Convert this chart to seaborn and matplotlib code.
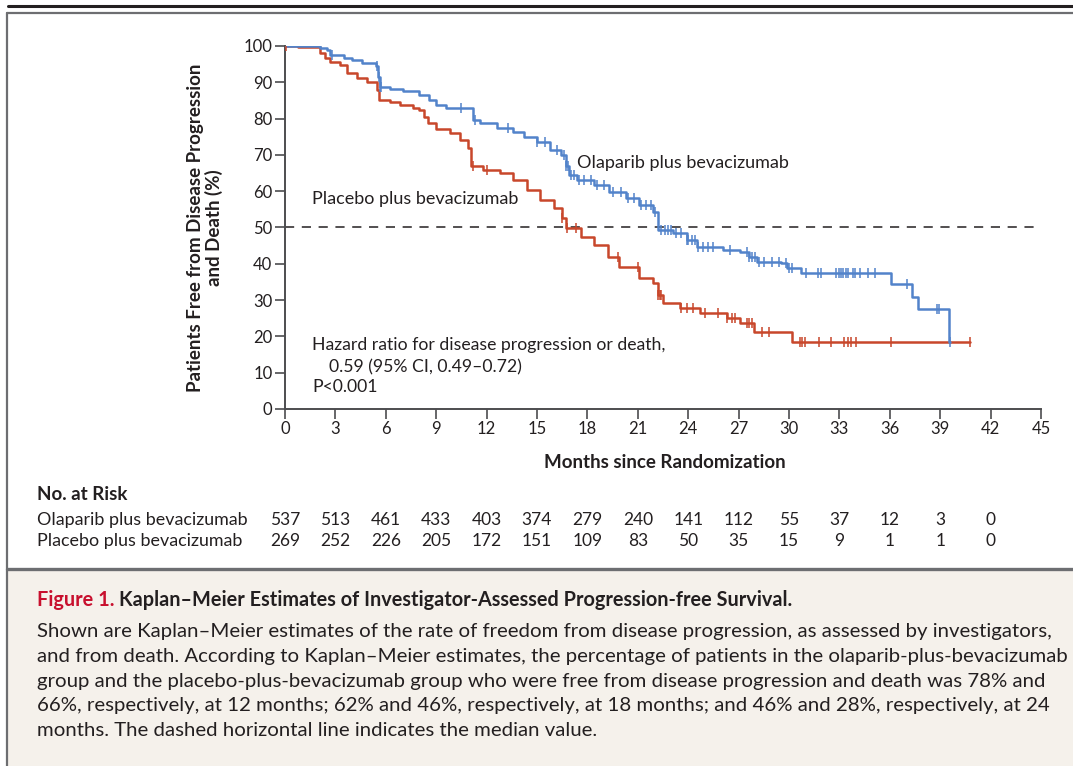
import numpy as np
import pandas as pd
import matplotlib
matplotlib.use("Agg")
import matplotlib.pyplot as plt
import seaborn as sns
from matplotlib.patches import Rectangle
from matplotlib.lines import Line2D
import matplotlib.transforms as mtransforms

# ---------------- data ----------------
month_ticks = list(range(0, 46, 3))
pct_ticks = list(range(0, 101, 10))

olap_time = [0, 2.1, 2.5, 2.7, 3.5, 4.0, 4.6, 5.4, 5.55, 5.65, 6.25, 7.0, 8.0, 8.6, 9.0, 9.6,
             11.2, 11.6, 12.6, 13.6, 14.2, 15.0, 15.8, 16.4, 16.7, 16.9, 17.4, 18.4, 19.3,
             20.3, 21.1, 21.9, 22.2, 23.1, 23.9, 24.5, 26.1, 27.1, 27.6, 28.1, 29.5, 29.9,
             30.7, 36.1, 37.3, 37.7, 39.5, 39.6]
olap_surv = [100, 99.5, 98.8, 97.5, 96.6, 96.1, 95.2, 94.5, 91.5, 88.8, 88.1, 87.7, 86.5, 85.1,
             83.7, 82.8, 79.6, 78.7, 77.4, 76.4, 75.0, 73.6, 71.3, 70.0, 67.0, 64.5, 63.1, 61.7,
             59.9, 58.0, 56.2, 54.4, 49.3, 48.5, 46.6, 44.7, 43.8, 43.3, 42.0, 40.6, 40.1, 38.8,
             37.6, 34.4, 30.9, 27.5, 18.5, 18.5]
olap_censor = [2.8, 5.5, 5.6, 5.65, 5.7, 10.5, 11.3, 13.3, 15.0, 15.5, 16.2, 16.6, 16.75, 16.85,
               17.0, 17.2, 17.5, 17.8, 18.2, 18.6, 19.0, 19.5, 20.0, 20.4, 20.8, 21.2, 21.5,
               21.8, 22.0, 22.4, 22.6, 22.8, 23.0, 23.3, 23.6, 23.9, 24.0, 24.2, 24.4, 24.6,
               24.9, 25.2, 25.5, 26.5, 27.5, 27.6, 27.8, 28.0, 28.2, 28.5, 29.0, 29.4, 29.8,
               30.0, 30.2, 31.0, 31.7, 31.9, 32.8, 33.0, 33.1, 33.2, 33.4, 33.5, 33.8, 33.9,
               34.2, 34.7, 35.1, 37.0, 38.8, 38.9, 39.6]

plac_time = [0, 0.8, 2.1, 2.4, 2.7, 3.3, 3.7, 4.3, 4.9, 5.5, 5.6, 6.25, 6.85, 7.6, 8.0, 8.3,
             8.5, 9.0, 9.8, 10.4, 10.9, 11.1, 11.8, 12.8, 13.6, 14.4, 15.2, 16.0, 16.5, 16.7,
             17.6, 18.4, 19.2, 19.9, 21.1, 21.9, 22.2, 22.5, 23.5, 24.7, 26.3, 27.1, 27.9,
             30.2, 40.8]
plac_surv = [100, 99.6, 98.0, 96.8, 95.7, 94.8, 92.5, 91.1, 90.2, 87.9, 85.1, 84.7, 83.7,
             82.8, 82.4, 80.5, 78.7, 77.0, 75.9, 74.1, 71.8, 66.9, 65.8, 64.9, 63.1, 60.3,
             57.6, 55.3, 52.5, 49.8, 47.5, 45.2, 42.0, 39.2, 36.0, 34.6, 31.5, 29.1, 27.7,
             26.4, 25.0, 23.6, 21.3, 18.5, 18.5]
plac_censor = [0.05, 11.2, 12.0, 16.5, 16.8, 17.3, 19.8, 21.0, 22.2, 22.3, 22.4, 23.6, 23.9,
               24.3, 25.0, 25.8, 26.3, 26.6, 26.8, 27.5, 27.6, 27.8, 28.4, 28.8, 30.65, 30.8,
               30.95, 31.8, 32.5, 33.3, 33.5, 33.7, 34.0, 36.1, 40.8]

risk_olap = [537, 513, 461, 433, 403, 374, 279, 240, 141, 112, 55, 37, 12, 3, 0]
risk_plac = [269, 252, 226, 205, 172, 151, 109, 83, 50, 35, 15, 9, 1, 1, 0]

label_olap = "Olaparib plus bevacizumab"
label_plac = "Placebo plus bevacizumab"

# ---------------- style ----------------
sns.set_theme(style="ticks")
plt.rcParams["font.family"] = ["Lato", "DejaVu Sans"]
TXT = "#231f20"
BLUE = "#5283ca"
RED = "#c8472b"
AX = "#4d4d4f"

W, H = 1073, 766
fig = plt.figure(figsize=(W / 100, H / 100), dpi=100)
fig.patch.set_facecolor("white")

def fx(px):
    return px / W

def fy(py):
    return 1 - py / H

# frame decorations
fig.add_artist(Rectangle((fx(8), 0), 1 - fx(8), fy(571), transform=fig.transFigure,
                         facecolor="#f5f1eb", edgecolor="none", zorder=0))
fig.add_artist(Line2D([fx(8), 1], [fy(6), fy(6)], transform=fig.transFigure,
                      color="#231f20", lw=2.2))
fig.add_artist(Line2D([fx(7), 1], [fy(13), fy(13)], transform=fig.transFigure,
                      color="#6d6e71", lw=1.6))
fig.add_artist(Line2D([fx(7), fx(7)], [0, fy(13)], transform=fig.transFigure,
                      color="#6d6e71", lw=1.6))
fig.add_artist(Line2D([fx(7), 1], [fy(569), fy(569)], transform=fig.transFigure,
                      color="#6d6e71", lw=2.4))

ax = fig.add_axes([fx(285), fy(409), fx(1041) - fx(285), fy(46) - fy(409)])
ax.set_facecolor("none")

def step_df(t, s):
    return pd.DataFrame({"time": t, "surv": s})

def censor_df(t, s, c):
    t = np.asarray(t)
    s = np.asarray(s)
    idx = np.searchsorted(t, np.asarray(c), side="right") - 1
    return pd.DataFrame({"time": c, "surv": s[idx]})

for t, s, c, col in [(plac_time, plac_surv, plac_censor, RED),
                     (olap_time, olap_surv, olap_censor, BLUE)]:
    sns.lineplot(data=step_df(t, s), x="time", y="surv", ax=ax, color=col, lw=1.8,
                 drawstyle="steps-post", estimator=None, sort=False, zorder=3)
    sns.scatterplot(data=censor_df(t, s, c), x="time", y="surv", ax=ax, color=col,
                    marker="|", s=50, linewidth=1.1, zorder=4)

# median dashed line
sns.lineplot(x=[0, 44.8], y=[50, 50], ax=ax, color="#231f20", lw=1.1,
             linestyle=(0, (6, 5)), zorder=2)

ax.set_xlim(0, 45)
ax.set_ylim(0, 100)
ax.set_xticks(month_ticks)
ax.set_yticks(pct_ticks)
ax.tick_params(axis="both", direction="out", length=7, width=1.2, color=AX,
               labelsize=12, labelcolor=TXT, pad=2)
for side in ["top", "right"]:
    ax.spines[side].set_visible(False)
for side in ["left", "bottom"]:
    ax.spines[side].set_color(AX)
    ax.spines[side].set_linewidth(1.4)
ax.set_xlabel("")
ax.set_ylabel("")

# axis labels
fig.text(fx(665), fy(462), "Months since Randomization", ha="center", va="center",
         fontsize=13.5, fontweight="bold", color=TXT)
fig.text(fx(205), fy(228), "Patients Free from Disease Progression\nand Death (%)",
         ha="center", va="center", rotation=90, fontsize=13.5, fontweight="bold",
         color=TXT, linespacing=1.1)

# in-plot labels
ax.text(17.38, 67.8, label_olap, ha="left", va="center", fontsize=13, color=TXT)
ax.text(1.6, 57.9, label_plac, ha="left", va="center", fontsize=13, color=TXT)
ax.text(1.6, 17.6, "Hazard ratio for disease progression or death,", ha="left",
        va="center", fontsize=12.7, color=TXT)
ax.text(2.6, 11.6, "0.59 (95% CI, 0.49\u20130.72)", ha="left", va="center",
        fontsize=12.7, color=TXT)
ax.text(1.6, 6.1, "P<0.001", ha="left", va="center", fontsize=12.7, color=TXT)

# at-risk table
bt = mtransforms.blended_transform_factory(ax.transData, fig.transFigure)
fig.text(fx(37), fy(495), "No. at Risk", ha="left", va="center", fontsize=13.5,
         fontweight="bold", color=TXT)
for py, lab, vals in [(520, label_olap, risk_olap), (541, label_plac, risk_plac)]:
    fig.text(fx(37), fy(py), lab, ha="left", va="center", fontsize=12.9, color=TXT)
    for m, v in zip(month_ticks, vals):
        ax.text(m, fy(py), str(v), transform=bt, ha="center", va="center",
                fontsize=12.5, color=TXT, clip_on=False)

# caption
fig.canvas.draw()
r = fig.canvas.get_renderer()
t1 = fig.text(fx(37), fy(600), "Figure 1.", ha="left", va="center", fontsize=14.3,
              fontweight="bold", color="#c8102e")
bb = t1.get_window_extent(renderer=r)
fig.text(bb.x1 / W + fx(5), fy(600),
         "Kaplan\u2013Meier Estimates of Investigator-Assessed Progression-free Survival.",
         ha="left", va="center", fontsize=14.3, fontweight="bold", color=TXT)
body = [
    "Shown are Kaplan\u2013Meier estimates of the rate of freedom from disease progression, as assessed by investigators,",
    "and from death. According to Kaplan\u2013Meier estimates, the percentage of patients in the olaparib-plus-bevacizumab",
    "group and the placebo-plus-bevacizumab group who were free from disease progression and death was 78% and",
    "66%, respectively, at 12 months; 62% and 46%, respectively, at 18 months; and 46% and 28%, respectively, at 24",
    "months. The dashed horizontal line indicates the median value.",
]
for i, line in enumerate(body):
    fig.text(fx(37), fy(632 + 24.5 * i), line, ha="left", va="center", fontsize=14.65,
             color=TXT)

fig.savefig("out.png", dpi=100)
